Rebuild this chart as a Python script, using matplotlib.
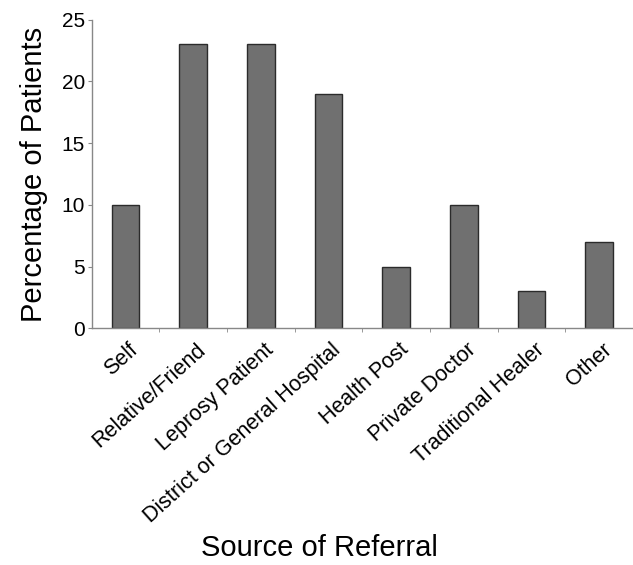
import numpy as np
import matplotlib
matplotlib.use("Agg")
import matplotlib.pyplot as plt

plt.rcParams["font.family"] = ["Liberation Sans", "DejaVu Sans"]

categories = ["Self", "Relative/Friend", "Leprosy Patient", "District or General Hospital",
              "Health Post", "Private Doctor", "Traditional Healer", "Other"]
percentages = [10, 23, 23, 19, 5, 10, 3, 7]

fig = plt.figure(figsize=(6.33, 5.65), dpi=100)
ax = fig.add_axes([0.145, 0.419, 0.855, 0.546])

x = np.arange(len(categories))
ax.bar(x, percentages, width=0.41, color="#707070", edgecolor="#2b2b2b", linewidth=1.0)

ax.set_xlim(-0.5, len(categories) - 0.5)
ax.set_ylim(0, 25)
ax.set_yticks(range(0, 26, 5))
ax.tick_params(axis="y", labelsize=15, length=3, color="#888888", pad=2)

ax.set_xticks(x + 0.04)
ax.set_xticklabels(categories, rotation=42, ha="right", rotation_mode="anchor", fontsize=15.5)
ax.set_xticks(x[:-1] + 0.5, minor=True)
ax.tick_params(axis="x", which="major", length=0, pad=8)
ax.tick_params(axis="x", which="minor", length=3, color="#888888")

for side in ("top", "right"):
    ax.spines[side].set_visible(False)
for side in ("left", "bottom"):
    ax.spines[side].set_color("#888888")
    ax.spines[side].set_linewidth(1.0)

ax.set_ylabel("Percentage of Patients", fontsize=21, labelpad=10)
fig.text(0.505, 0.016, "Source of Referral", fontsize=21, ha="center", va="baseline")

fig.savefig("out.png", dpi=100)
